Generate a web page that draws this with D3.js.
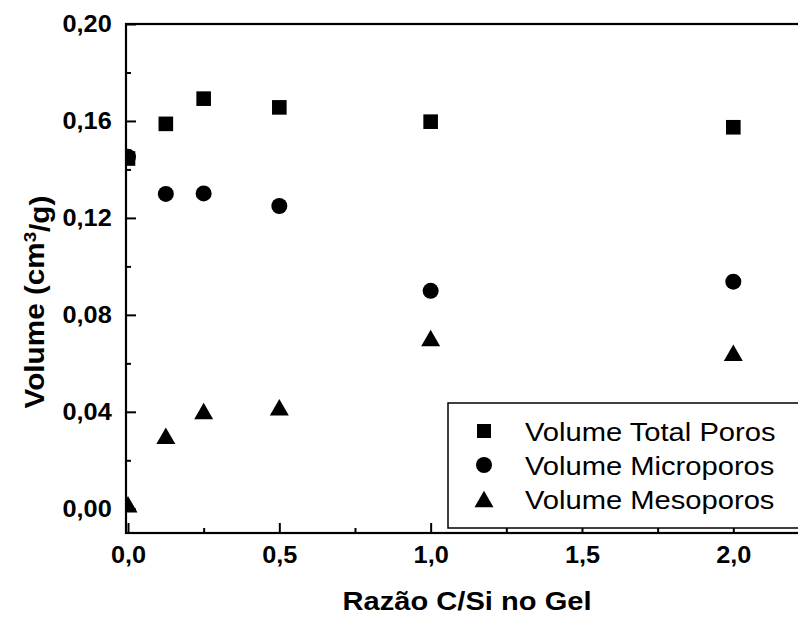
<!DOCTYPE html>
<html>
<head>
<meta charset="utf-8">
<script src="https://cdn.jsdelivr.net/npm/d3@7"></script>
<style>
  html, body { margin: 0; padding: 0; background: #fff; }
  svg { display: block; font-family: "Liberation Sans", Arial, sans-serif; }
</style>
</head>
<body>
<div id="chart"></div>
<script>
// data
const ratios = [0, 0.125, 0.25, 0.5, 1.0, 2.0];
const totalPores = [0.1445, 0.1588, 0.1692, 0.1656, 0.1597, 0.1574];
const microPores = [0.1452, 0.1299, 0.1301, 0.1249, 0.0899, 0.0937];
const mesoPores = [0.0019, 0.0301, 0.0403, 0.0419, 0.0705, 0.0644];
const seriesNames = ["Volume Total Poros", "Volume Microporos", "Volume Mesoporos"];
const xTicks = [0, 0.5, 1.0, 1.5, 2.0];
const xMinor = [0.25, 0.75, 1.25, 1.75];
const yTicks = [0, 0.04, 0.08, 0.12, 0.16, 0.20];
const yMinor = [0.02, 0.06, 0.10, 0.14, 0.18];

const W = 798, H = 621;
const plot = { left: 126, top: 24, right: 812, bottom: 533 };
const stretch = 1.1; // the original text is a bit wide

const svg = d3.select("#chart").append("svg")
    .attr("width", W)
    .attr("height", H);

const x = d3.scaleLinear().domain([-0.0066, 2.26]).range([plot.left, plot.right]);
const y = d3.scaleLinear().domain([-0.01, 0.20]).range([plot.bottom, plot.top]);

const comma = s => s.replace(".", ",");

// clip for markers
svg.append("clipPath").attr("id", "clip")
    .append("rect")
    .attr("x", plot.left).attr("y", plot.top)
    .attr("width", plot.right - plot.left).attr("height", plot.bottom - plot.top);

// markers
const sq = 14.6, rad = 8, triW = 19, triH = 16.5;
const g = svg.append("g").attr("clip-path", "url(#clip)");

function triPath(cx, cy, w, h) {
    return `M${cx - w / 2},${cy + h / 2}L${cx + w / 2},${cy + h / 2}L${cx},${cy - h / 2}Z`;
}

g.selectAll(".sq").data(ratios.map((r, i) => [r, totalPores[i]]))
    .enter().append("rect")
    .attr("x", d => x(d[0]) - sq / 2)
    .attr("y", d => y(d[1]) - sq / 2)
    .attr("width", sq).attr("height", sq)
    .attr("fill", "#000");

g.selectAll(".ci").data(ratios.map((r, i) => [r, microPores[i]]))
    .enter().append("circle")
    .attr("cx", d => x(d[0]))
    .attr("cy", d => y(d[1]))
    .attr("r", rad)
    .attr("fill", "#000");

g.selectAll(".tr").data(ratios.map((r, i) => [r, mesoPores[i]]))
    .enter().append("path")
    .attr("d", d => triPath(x(d[0]), y(d[1]), triW, triH))
    .attr("fill", "#000");

// axes, ticks inward
const yAxis = svg.append("g")
    .attr("transform", `translate(${plot.left},0)`)
    .call(d3.axisLeft(y).tickValues(yTicks).tickSize(-10)
        .tickFormat(d => comma(d3.format(".2f")(d))).tickPadding(13));
svg.append("g")
    .attr("transform", `translate(${plot.left},0)`)
    .call(d3.axisLeft(y).tickValues(yMinor).tickSize(-5).tickFormat(""));

const xAxis = svg.append("g")
    .attr("transform", `translate(0,${plot.bottom})`)
    .call(d3.axisBottom(x).tickValues(xTicks).tickSize(-10)
        .tickFormat(d => comma(d3.format(".1f")(d))).tickPadding(14));
svg.append("g")
    .attr("transform", `translate(0,${plot.bottom})`)
    .call(d3.axisBottom(x).tickValues(xMinor).tickSize(-5).tickFormat(""));

svg.selectAll(".domain").remove();
svg.selectAll(".tick line").attr("stroke", "#000").attr("stroke-width", 2);

svg.selectAll(".tick text")
    .attr("transform", `scale(${stretch},1)`)
    .style("font-size", "23px").style("font-weight", "bold").attr("fill", "#000");

// frame
svg.append("rect")
    .attr("x", plot.left).attr("y", plot.top)
    .attr("width", plot.right - plot.left).attr("height", plot.bottom - plot.top)
    .attr("fill", "none").attr("stroke", "#000").attr("stroke-width", 2.2);

// legend
const leg = svg.append("g");
leg.append("rect")
    .attr("x", 448).attr("y", 403)
    .attr("width", 400).attr("height", 125)
    .attr("fill", "#fff").attr("stroke", "#000").attr("stroke-width", 1.5);

const legY = [431, 465, 499];
leg.append("rect").attr("x", 484 - 7).attr("y", legY[0] - 7).attr("width", 14).attr("height", 14).attr("fill", "#000");
leg.append("circle").attr("cx", 484).attr("cy", legY[1]).attr("r", 8).attr("fill", "#000");
leg.append("path").attr("d", triPath(484, legY[2], triW, triH)).attr("fill", "#000");

leg.selectAll(".lt").data(seriesNames)
    .enter().append("text")
    .attr("transform", (d, i) => `translate(525,${legY[i]}) scale(${stretch},1)`)
    .attr("dy", "0.36em")
    .style("font-size", "26.5px")
    .attr("fill", "#000")
    .text(d => d);

// axis titles
svg.append("text")
    .attr("transform", `translate(467,610) scale(1.12,1)`)
    .attr("text-anchor", "middle")
    .style("font-size", "26px")
    .style("font-weight", "bold")
    .text("Razão C/Si no Gel");

const yt = svg.append("text")
    .attr("transform", `translate(44,302) rotate(-90) scale(1.1,1)`)
    .attr("text-anchor", "middle")
    .style("font-size", "27px")
    .style("font-weight", "bold");
yt.append("tspan").text("Volume (cm");
yt.append("tspan").attr("dy", "-0.45em").style("font-size", "17px").text("3");
yt.append("tspan").attr("dy", "0.45em").text("/g)");
</script>
</body>
</html>
